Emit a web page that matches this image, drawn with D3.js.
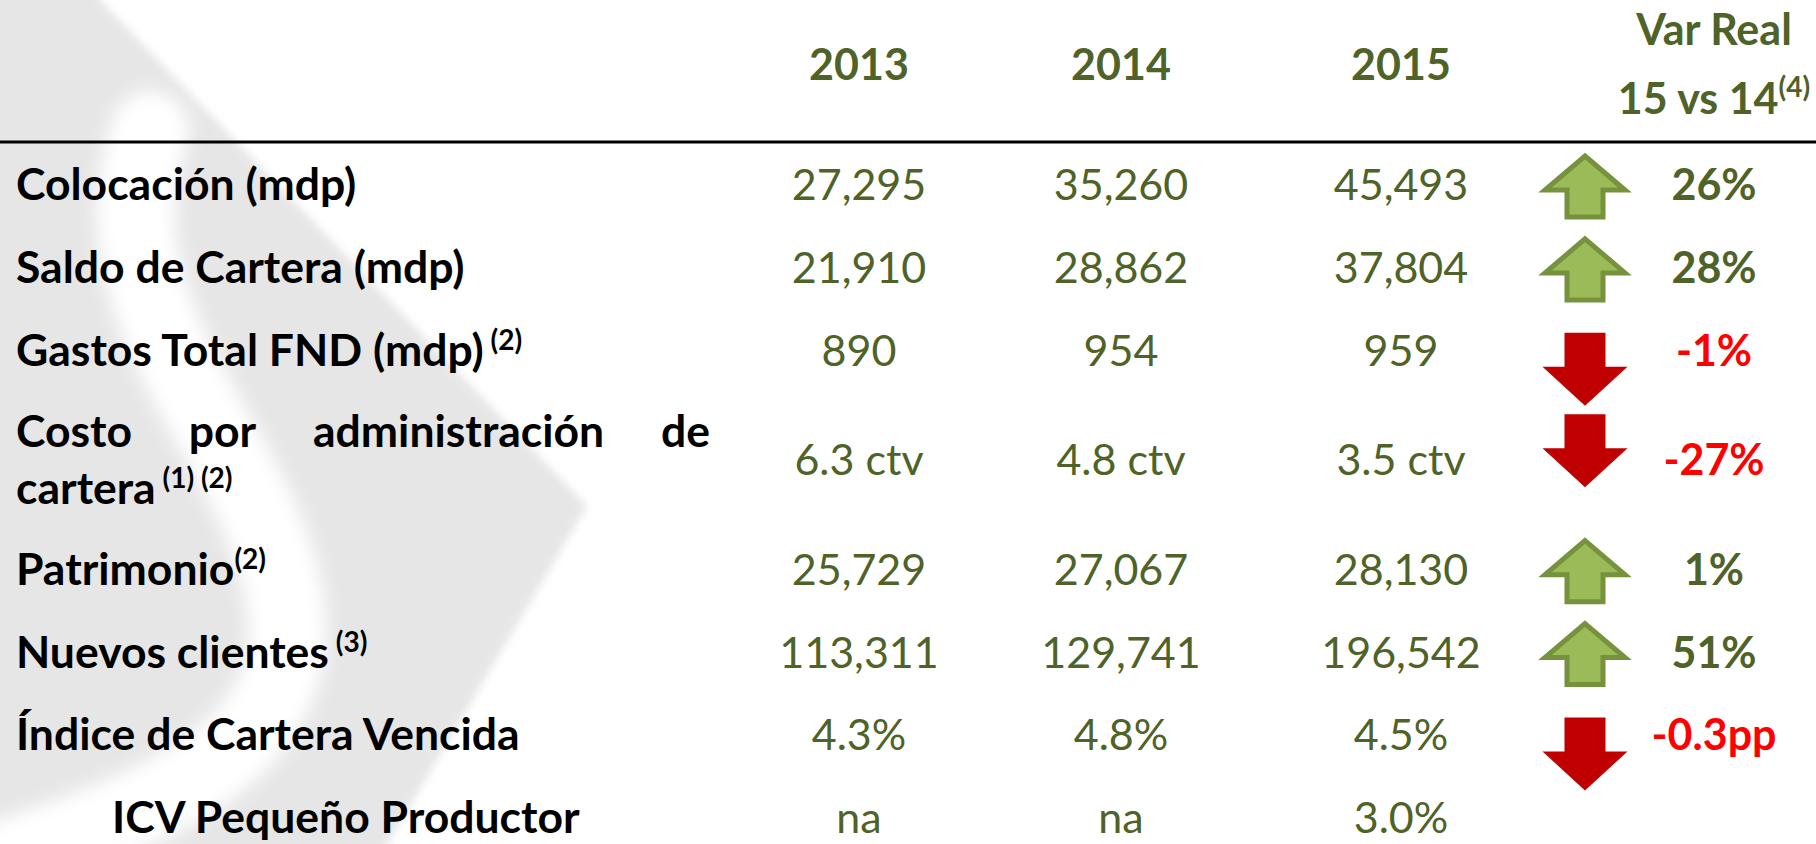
<!DOCTYPE html>
<html><head><meta charset="utf-8">
<script src="https://cdn.jsdelivr.net/npm/d3@7"></script>
<style>
html,body{margin:0;padding:0;background:#fff;overflow:hidden;}
svg{display:block;}
text{font-family:Lato,"Open Sans",sans-serif;}
</style></head><body>
<svg id="chart" width="1816" height="844"></svg>
<script>
// ---------- data ----------
const years = ["2013", "2014", "2015"];
const varHeaderLines = ["Var Real", "15 vs 14"];
const varHeaderNote = "(4)";
const rowLabels = [
  "Colocación (mdp)",
  "Saldo de Cartera (mdp)",
  "Gastos Total FND (mdp)",
  "Costo por administración de\ncartera",
  "Patrimonio",
  "Nuevos clientes",
  "Índice de Cartera Vencida",
  "ICV Pequeño Productor"
];
const rowNotes = ["", "", " (2)", " (1) (2)", "(2)", " (3)", "", ""];
const rowLevel = [0, 0, 0, 0, 0, 0, 0, 1];
const values2013 = ["27,295", "21,910", "890", "6.3 ctv", "25,729", "113,311", "4.3%", "na"];
const values2014 = ["35,260", "28,862", "954", "4.8 ctv", "27,067", "129,741", "4.8%", "na"];
const values2015 = ["45,493", "37,804", "959", "3.5 ctv", "28,130", "196,542", "4.5%", "3.0%"];
const varReal = ["26%", "28%", "-1%", "-27%", "1%", "51%", "-0.3pp", ""];
const varDirection = ["up", "up", "down", "down", "up", "up", "down", ""];

// ---------- styles ----------
const W = 1816, H = 844;
const GREEN_TXT = "#4F6228", RED_TXT = "#FF0000";
const UP_FILL = "#9BBB59", UP_STROKE = "#76923C", DOWN_FILL = "#C00000";
const FS = 43, FS_LABEL = 44.5, FS_NOTE = 28;

const svg = d3.select("#chart");

// ---------- background watermark ----------
const defs = svg.append("defs");
defs.append("filter").attr("id", "soft").attr("x", "-20%").attr("y", "-20%").attr("width", "140%").attr("height", "140%")
  .append("feGaussianBlur").attr("stdDeviation", 4);
defs.append("filter").attr("id", "softer").attr("x", "-20%").attr("y", "-20%").attr("width", "140%").attr("height", "140%")
  .append("feGaussianBlur").attr("stdDeviation", 9);
const bg = svg.append("g");
bg.append("path")
  .attr("d", "M-20,-20 L100,-20 L100,0 L587,506 L378,860 L-20,860 Z")
  .attr("fill", "#E6E6E6").attr("filter", "url(#soft)");
const sLine = d3.line().curve(d3.curveBasis);
bg.append("path")
  .attr("d", sLine([[150, 130], [130, 200], [145, 300], [195, 400], [255, 500], [292, 600], [285, 690], [225, 765], [110, 825], [-60, 880]]))
  .attr("fill", "none").attr("stroke", "#fff").attr("stroke-width", 78)
  .attr("stroke-linecap", "round").attr("filter", "url(#softer)");

// ---------- layout scales ----------
const rowLines = rowLabels.map(l => l.split("\n").length);
const rowUnits = rowLines.map(n => n === 1 ? 1 : 1.64);
const cum = d3.cumsum(rowUnits);
const rowMid = rowUnits.map((u, i) => cum[i] - u / 2);
const yRow = d3.scaleLinear().domain([0.5, 1.5]).range([200, 282.9]); // baseline of each row
const xCol = d3.scaleOrdinal().domain(years).range([859, 1121, 1401]);
const xArrow = 1585, xVar = 1714, xLabel = 16, xLabelIndent = 112, labelRight = 710;

// ---------- header ----------
svg.append("g").selectAll("text").data(years).join("text")
  .attr("x", d => xCol(d)).attr("y", 80)
  .attr("text-anchor", "middle").attr("font-weight", 700).attr("font-size", FS)
  .attr("fill", GREEN_TXT).text(d => d);

const vh = svg.append("g").attr("font-weight", 700).attr("font-size", FS).attr("fill", GREEN_TXT);
vh.append("text").attr("x", xVar).attr("y", 45).attr("text-anchor", "middle").text(varHeaderLines[0]);
const vh2 = vh.append("text").attr("x", xVar).attr("y", 114).attr("text-anchor", "middle");
vh2.append("tspan").text(varHeaderLines[1]);
vh2.append("tspan").attr("font-size", FS_NOTE).attr("dy", -17).text(varHeaderNote);

svg.append("line").attr("x1", 0).attr("x2", W).attr("y1", 142).attr("y2", 142)
  .attr("stroke", "#000").attr("stroke-width", 3);

// ---------- rows ----------
const rows = rowLabels.map((label, i) => ({
  label, note: rowNotes[i], level: rowLevel[i], lines: label.split("\n"),
  vals: [values2013[i], values2014[i], values2015[i]],
  v: varReal[i], dir: varDirection[i], y: yRow(rowMid[i])
}));

const rg = svg.append("g").selectAll("g.row").data(rows).join("g").attr("class", "row");

rg.each(function (r) {
  const g = d3.select(this);
  const x0 = r.level ? xLabelIndent : xLabel;
  const n = r.lines.length;
  const firstBase = n > 1 ? r.y - 28 : r.y;
  r.lines.forEach((ln, li) => {
    const yb = firstBase + li * 57;
    const isLast = li === n - 1;
    if (!isLast) {
      // justified line
      const words = ln.split(" ");
      const ts = words.map(w => g.append("text").attr("y", yb).attr("font-weight", 700)
        .attr("font-size", FS_LABEL).attr("fill", "#000").text(w));
      const widths = ts.map(t => t.node().getComputedTextLength());
      const gap = (labelRight - x0 - d3.sum(widths)) / (words.length - 1);
      let x = x0;
      ts.forEach((t, k) => { t.attr("x", x); x += widths[k] + gap; });
    } else {
      const t = g.append("text").attr("x", x0).attr("y", yb).attr("font-weight", 700)
        .attr("font-size", FS_LABEL).attr("fill", "#000");
      t.append("tspan").text(ln);
      if (r.note) t.append("tspan").attr("font-size", FS_NOTE).attr("dy", -16)
        .style("white-space", "pre").text(r.note);
    }
  });
  r.firstCenter = firstBase - 15;
});

// values
rg.selectAll("text.val").data(r => r.vals.map((v, k) => ({ v, k, y: r.y }))).join("text")
  .attr("class", "val")
  .attr("x", d => xCol(years[d.k])).attr("y", d => d.y)
  .attr("text-anchor", "middle").attr("font-size", FS).attr("fill", GREEN_TXT)
  .text(d => d.v);

// variation text
rg.filter(r => r.v).append("text")
  .attr("x", xVar).attr("y", r => r.y)
  .attr("text-anchor", "middle").attr("font-weight", 700).attr("font-size", FS)
  .attr("fill", r => r.dir === "up" ? GREEN_TXT : RED_TXT)
  .text(r => r.v);

// arrows
function upArrow(cx, t) {
  const p = d3.path();
  p.moveTo(cx, t + 3);
  p.lineTo(cx + 40, t + 37); p.lineTo(cx + 18, t + 37); p.lineTo(cx + 18, t + 64);
  p.lineTo(cx - 18, t + 64); p.lineTo(cx - 18, t + 37); p.lineTo(cx - 40, t + 37);
  p.closePath();
  return p.toString();
}
function downArrow(cx, s) {
  const p = d3.path();
  p.moveTo(cx - 20.5, s); p.lineTo(cx + 20.5, s); p.lineTo(cx + 20.5, s + 34);
  p.lineTo(cx + 42.5, s + 34); p.lineTo(cx, s + 73); p.lineTo(cx - 42.5, s + 34);
  p.lineTo(cx - 20.5, s + 34); p.closePath();
  return p.toString();
}
rg.filter(r => r.dir === "up").append("path")
  .attr("d", r => upArrow(xArrow, r.firstCenter - 32))
  .attr("fill", UP_FILL).attr("stroke", UP_STROKE).attr("stroke-width", 5);
rg.filter(r => r.dir === "down").append("path")
  .attr("d", r => downArrow(xArrow, r.firstCenter - 18))
  .attr("fill", DOWN_FILL);
</script>
</body></html>
